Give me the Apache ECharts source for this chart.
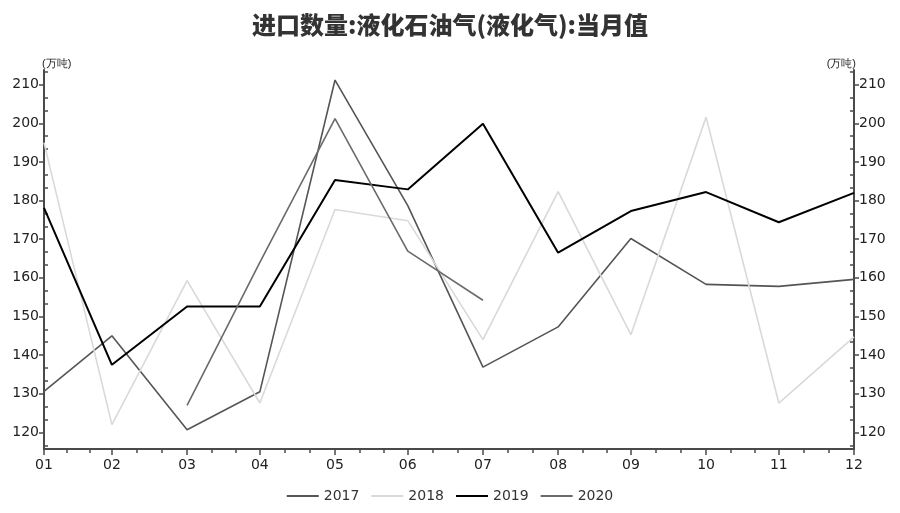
<!DOCTYPE html>
<html>
<head>
<meta charset="utf-8">
<script src="https://cdn.jsdelivr.net/npm/echarts@6/dist/echarts.min.js"></script>
<style>
  html, body { margin: 0; padding: 0; background: #fff; }
  #main { width: 900px; height: 513px; }
</style>
</head>
<body>
<div id="main"></div>
<script>
// 月份（当月值，按月末日期排列）
var months = ['01', '02', '03', '04', '05', '06', '07', '08', '09', '10', '11', '12'];
var yearNames = ['2017', '2018', '2019', '2020'];

// 单位：万吨
var v2017 = [130.6, 145.0, 120.7, 130.5, 211.2, 178.7, 136.9, 147.3, 170.2, 158.3, 157.8, 159.6];
var v2018 = [195.0, 122.0, 159.3, 127.6, 177.7, 174.8, 144.0, 182.3, 145.3, 201.6, 127.6, 144.7];
var v2019 = [178.1, 137.5, 152.6, 152.6, 185.3, 182.9, 199.9, 166.5, 177.3, 182.2, 174.4, 182.0];
var v2020 = [null, null, 127.0, 164.0, 201.2, 166.9, 154.2, null, null, null, null, null];

var yTicks = [120, 130, 140, 150, 160, 170, 180, 190, 200, 210];

init();

function init() {
    var myChart = echarts.init(document.getElementById('main'));

    // 每月月末是一年中的第几天
    var monthEnd = months.map(function (m) {
        var mi = parseInt(m, 10);
        return (Date.UTC(2021, mi, 0) - Date.UTC(2021, 0, 0)) / 86400000;
    });
    var xMin = monthEnd[0], xMax = monthEnd[monthEnd.length - 1];
    var yMin = 115.7, yMax = 213.8;

    // 次刻度：每段三等分
    var xMinor = [];
    for (var i = 0; i < monthEnd.length - 1; i++) {
        var a = monthEnd[i], b = monthEnd[i + 1];
        xMinor.push(a + (b - a) / 3, a + 2 * (b - a) / 3);
    }
    var yMinor = [];
    for (var t = 110; t <= 210; t += 10) {
        [t + 10 / 3, t + 20 / 3].forEach(function (v) {
            if (v > yMin && v < yMax) yMinor.push(v);
        });
    }

    function pts(arr) {
        return arr.map(function (v, i) { return [monthEnd[i], v]; })
                  .filter(function (p) { return p[1] !== null; });
    }

    var axisColor = '#4a4a4a';
    var labelStyle = { color: '#222', fontSize: 14, fontFamily: 'DejaVu Sans' };

    var option = {
        title: {
            text: '进口数量:液化石油气(液化气):当月值',
            left: 'center',
            top: 8,
            textStyle: {
                fontSize: 24,
                fontWeight: 900,
                color: '#333',
                fontFamily: 'Noto Sans CJK SC'
            }
        },
        legend: {
            bottom: 5,
            left: 'center',
            icon: 'rect',
            itemWidth: 32,
            itemHeight: 2,
            itemGap: 12,
            textStyle: { color: '#333', fontSize: 14, fontFamily: 'DejaVu Sans' },
            data: yearNames
        },
        grid: { left: 44, right: 46, top: 70, bottom: 64 },
        xAxis: [
            {
                type: 'value',
                min: xMin,
                max: xMax,
                splitLine: { show: false },
                axisLine: { lineStyle: { color: axisColor, width: 2 } },
                axisTick: { customValues: monthEnd, length: 6, lineStyle: { color: axisColor, width: 1.5 } },
                axisLabel: {
                    customValues: monthEnd,
                    margin: 9,
                    color: '#222',
                    fontSize: 14,
                    fontFamily: 'DejaVu Sans',
                    formatter: function (v) {
                        var k = monthEnd.indexOf(v);
                        return k >= 0 ? months[k] : '';
                    }
                }
            },
            {
                type: 'value',
                min: xMin,
                max: xMax,
                position: 'bottom',
                splitLine: { show: false },
                axisLine: { show: false },
                axisTick: { customValues: xMinor, length: 4, lineStyle: { color: axisColor, width: 1.5 } },
                axisLabel: { show: false }
            }
        ],
        yAxis: [
            {
                type: 'value',
                position: 'left',
                min: yMin,
                max: yMax,
                name: '(万吨)',
                nameLocation: 'end',
                nameGap: 1,
                nameTextStyle: { color: '#222', fontSize: 11, align: 'left', padding: [0, 0, 0, -2] },
                splitLine: { show: false },
                axisLine: { show: true, lineStyle: { color: axisColor, width: 2 } },
                axisTick: { show: true, customValues: yTicks, length: 5, lineStyle: { color: axisColor, width: 1.5 } },
                axisLabel: Object.assign({ customValues: yTicks, margin: 5 }, labelStyle)
            },
            {
                type: 'value',
                position: 'right',
                min: yMin,
                max: yMax,
                name: '(万吨)',
                nameLocation: 'end',
                nameGap: 1,
                nameTextStyle: { color: '#222', fontSize: 11, align: 'right', padding: [0, -2, 0, 0] },
                splitLine: { show: false },
                axisLine: { show: true, lineStyle: { color: axisColor, width: 2 } },
                axisTick: { show: true, customValues: yTicks, length: 5, lineStyle: { color: axisColor, width: 1.5 } },
                axisLabel: Object.assign({ customValues: yTicks, margin: 5 }, labelStyle)
            },
            {
                type: 'value',
                position: 'left',
                min: yMin,
                max: yMax,
                splitLine: { show: false },
                axisLine: { show: false },
                axisTick: { show: true, inside: true, customValues: yMinor, length: 4, lineStyle: { color: axisColor, width: 1.5 } },
                axisLabel: { show: false }
            },
            {
                type: 'value',
                position: 'right',
                min: yMin,
                max: yMax,
                splitLine: { show: false },
                axisLine: { show: false },
                axisTick: { show: true, inside: true, customValues: yMinor, length: 4, lineStyle: { color: axisColor, width: 1.5 } },
                axisLabel: { show: false }
            }
        ],
        series: [
            { name: '2017', type: 'line', symbol: 'none', data: pts(v2017), color: '#555555', lineStyle: { width: 1.6 } },
            { name: '2018', type: 'line', symbol: 'none', data: pts(v2018), color: '#d9d9d9', lineStyle: { width: 1.6 } },
            { name: '2019', type: 'line', symbol: 'none', data: pts(v2019), color: '#000000', lineStyle: { width: 2 } },
            { name: '2020', type: 'line', symbol: 'none', data: pts(v2020), color: '#6a6a6a', lineStyle: { width: 1.6 } }
        ]
    };

    myChart.setOption(option);
}
</script>
</body>
</html>
